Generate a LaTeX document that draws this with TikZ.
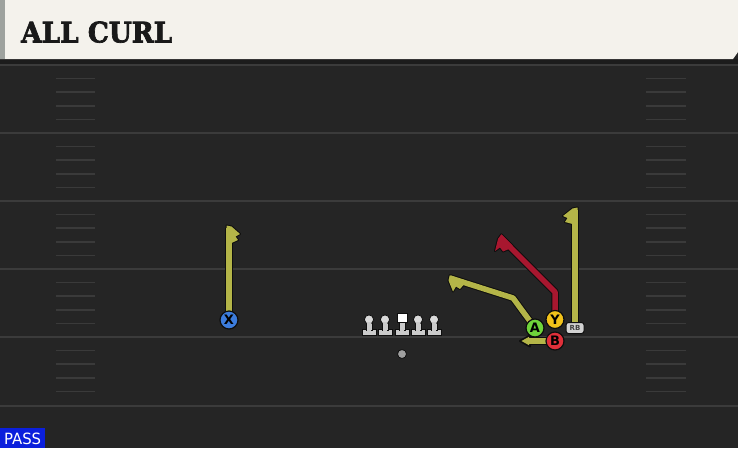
\documentclass[tikz,border=0pt]{standalone}
\usepackage{fontspec}
\setmainfont{DejaVu Sans}
\newfontfamily\titlefont[FakeBold=2.5]{DejaVu Serif}
\newfontfamily\passfont{DejaVu Sans Condensed}
\usetikzlibrary{calc}
\definecolor{hdrbg}{HTML}{F4F2EC}
\definecolor{hdrstripe}{HTML}{9EA29E}
\definecolor{fieldbg}{HTML}{252525}
\definecolor{fieldtop}{HTML}{1C1C1C}
\definecolor{yardline}{HTML}{3B3B3B}
\definecolor{hashcol}{HTML}{3A3A3A}
\definecolor{routeyel}{HTML}{B4B548}
\definecolor{routered}{HTML}{A8172F}
\definecolor{xblue}{HTML}{3C7CDC}
\definecolor{agreen}{HTML}{6FD43A}
\definecolor{yyellow}{HTML}{F2C21A}
\definecolor{bred}{HTML}{E0303A}
\definecolor{passblue}{HTML}{0B1FDC}
\definecolor{linecol}{HTML}{CACACA}
\definecolor{outl}{HTML}{0E0E0E}
\tikzset{
  yard/.style={draw=yardline, line width=2pt},
  hashm/.style={draw=hashcol, line width=1.6pt},
  shaftout/.style={draw=outl, line width=7.5pt, line join=round},
  shaftin/.style={line width=5.5pt, line join=round},
  headout/.style={draw=outl, fill=outl, line width=2pt, line join=round},
  headin/.style={draw=none},
  player/.style={circle, draw=outl, line width=1.2pt, minimum size=18pt, inner sep=0pt, font=\bfseries\fontsize{13}{13}\selectfont, text=black},
  rbtag/.style={rectangle, rounded corners=2.5pt, draw=outl, line width=1pt, fill=linecol!85, minimum width=18pt, minimum height=11pt, inner sep=0pt, font=\bfseries\fontsize{7}{7}\selectfont, text=black!75},
  lineman/.style={fill=linecol, draw=outl, line width=0.8pt},
}
\begin{document}
\begin{tikzpicture}[x=1pt,y=-1pt]
\useasboundingbox (0,0) rectangle (738,448);
% field
\fill[fieldbg] (0,0) rectangle (738,448);
\fill[fieldtop] (0,59) rectangle (738,65);
% yard lines
\foreach \yy in {65,133,201,269,337,406}{
  \path[yard] (0,\yy) -- (738,\yy);
}
% hash marks
\foreach \yb in {65,133,201,269,337}{
  \foreach \k in {1,2,3,4}{
    \path[hashm] (56,{\yb+13.6*\k}) -- (95,{\yb+13.6*\k});
    \path[hashm] (646,{\yb+13.6*\k}) -- (686,{\yb+13.6*\k});
  }
}
% header
\fill[hdrbg] (0,0) -- (738,0) -- (738,52) -- (733,59) -- (0,59) -- cycle;
\fill[hdrstripe] (0,0) rectangle (5,59);
\node[anchor=south west, inner sep=0pt, text=black!90] (title) at (21,43) {\resizebox{151pt}{21pt}{\titlefont\bfseries ALL CURL}};
% PASS tag
\fill[passblue] (0,428) rectangle (45,448);
\node[anchor=south west, inner sep=0pt, text=white] (pass) at (4,445) {\resizebox{37pt}{11.5pt}{\passfont PASS}};

% ---------- routes: outlines ----------
% X
\path[shaftout] (229,320) -- (229,228);
\path[headout] (226.5,225.5) -- (231.5,226.5) -- (240,234) -- (235.5,236.5) -- (238,240) -- (231.5,243) -- (226.5,243) -- cycle;
% RB
\path[shaftout] (575,328) -- (575,210);
\path[headout] (577.5,207.5) -- (572.5,208.5) -- (563,216) -- (567.5,218) -- (565,222) -- (572.5,224) -- (577.5,224) -- cycle;
% Y (red)
\path[shaftout] (555,319) -- (555,292) -- (500,237);
\path[headout] (501.3,234.3) -- (498,239) -- (495,251) -- (500,247.5) -- (503,251.5) -- (509,249) -- (512.5,245.5) -- cycle;
% A
\path[shaftout] (535,328) -- (513,298) -- (450,278);
\path[headout] (449.7,275.3) -- (448.5,280.5) -- (453,291.5) -- (456,286.5) -- (460,289) -- (463.6,284.8) -- (465,280.3) -- cycle;
% B
\path[shaftout] (555,341) -- (529,341);
\path[headout] (520,341) -- (530,335.5) -- (530,346.5) -- cycle;

% ---------- routes: fills ----------
\path[shaftin, draw=routeyel] (229,320) -- (229,228);
\path[headin, fill=routeyel] (226.5,225.5) -- (231.5,226.5) -- (240,234) -- (235.5,236.5) -- (238,240) -- (231.5,243) -- (226.5,243) -- cycle;
\path[shaftin, draw=routeyel] (575,328) -- (575,210);
\path[headin, fill=routeyel] (577.5,207.5) -- (572.5,208.5) -- (563,216) -- (567.5,218) -- (565,222) -- (572.5,224) -- (577.5,224) -- cycle;
\path[shaftin, draw=routered] (555,319) -- (555,292) -- (500,237);
\path[headin, fill=routered] (501.3,234.3) -- (498,239) -- (495,251) -- (500,247.5) -- (503,251.5) -- (509,249) -- (512.5,245.5) -- cycle;
\path[shaftin, draw=routeyel] (535,328) -- (513,298) -- (450,278);
\path[headin, fill=routeyel] (449.7,275.3) -- (448.5,280.5) -- (453,291.5) -- (456,286.5) -- (460,289) -- (463.6,284.8) -- (465,280.3) -- cycle;
\path[shaftin, draw=routeyel] (555,341) -- (529,341);
\path[headin, fill=routeyel] (521.5,341) -- (529,336.8) -- (529,345.2) -- cycle;

% ---------- offensive line ----------
\foreach \lx in {369,385,418,434}{
  \path[lineman] (\lx-7,329.5) rectangle (\lx+7,335);
  \path[lineman] (\lx-3,320) rectangle (\lx+3,330);
  \path[lineman, fill=linecol!70!white] (\lx,319.5) circle (4.6);
  \fill[linecol] (\lx-2.4,321.5) rectangle (\lx+2.4,330.6);
}
\path[lineman] (395,329.5) rectangle (409,335);
\path[lineman] (399,320) rectangle (405,330);
\path[lineman, fill=white] (397,313) rectangle (407,322);
\fill[linecol] (399.6,322.6) rectangle (404.4,330.6);
\node[circle, fill=gray!75, draw=outl, line width=0.8pt, minimum size=9pt, inner sep=0pt] (qb) at (402,354) {};

% ---------- players ----------
\node[player, fill=xblue] (X) at (229,320) {X};
\node[rbtag] (RB) at (575,328) {RB};
\node[player, fill=yyellow] (Y) at (555,319.5) {Y};
\node[player, fill=agreen] (A) at (535,328) {A};
\node[player, fill=bred] (B) at (555,341) {B};
\end{tikzpicture}
\end{document}
